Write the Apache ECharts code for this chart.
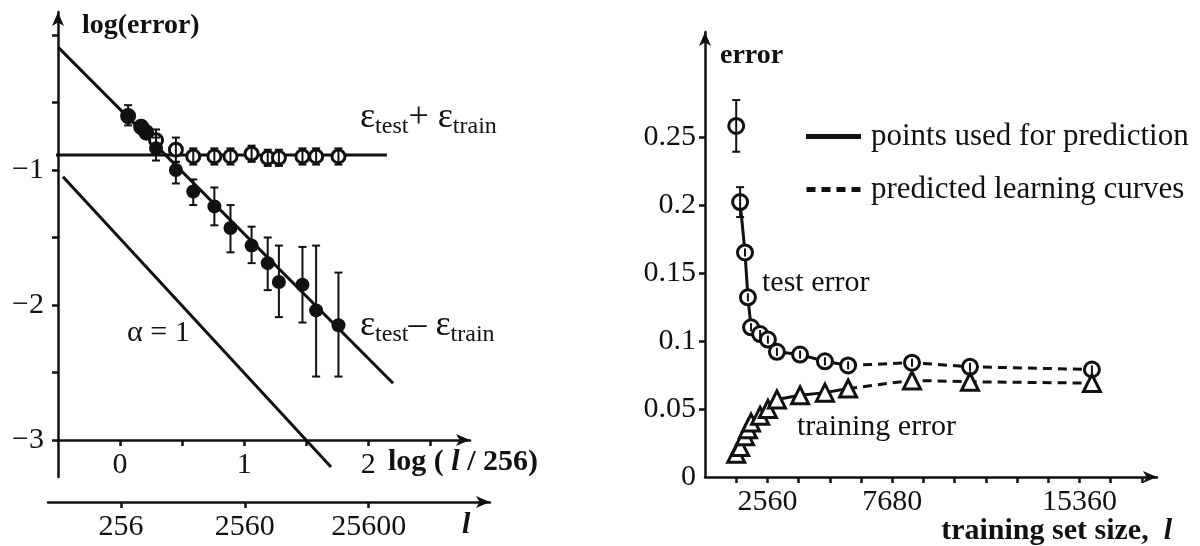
<!DOCTYPE html>
<html>
<head>
<meta charset="utf-8">
<script src="https://cdn.jsdelivr.net/npm/echarts@6/dist/echarts.min.js"></script>
<style>
  html, body { margin: 0; background: #fff; }
  #chart { width: 1200px; height: 546px; }
</style>
</head>
<body>
<div id="chart"></div>
<script>
// ---- left panel: x = log10(l / 256), y = log10(error)
const logL    = [0.065, 0.17, 0.21, 0.29, 0.45, 0.59, 0.76, 0.89, 1.06, 1.19, 1.28, 1.47, 1.58, 1.76];
const diffErr = [-0.61, -0.69, -0.73, -0.84, -1.00, -1.16, -1.27, -1.43, -1.56, -1.69, -1.83, -1.85, -2.04, -2.15];
const diffLo  = [-0.67, -0.74, -0.78, -0.93, -1.10, -1.26, -1.41, -1.61, -1.69, -1.89, -2.09, -2.13, -2.53, -2.53];
const diffHi  = [-0.52, -0.64, -0.68, -0.76, -0.94, -1.07, -1.13, -1.26, -1.42, -1.50, -1.56, -1.57, -1.56, -1.76];
const sumErr  = [-0.60, -0.68, -0.72, -0.78, -0.85, -0.90, -0.90, -0.90, -0.88, -0.91, -0.91, -0.90, -0.90, -0.90];
const sumBar  = [0.05, 0.05, 0.05, 0.08, 0.09, 0.06, 0.06, 0.06, 0.06, 0.06, 0.06, 0.06, 0.06, 0.06];
const fitX     = [-0.5, 2.2];
const fitY     = [-0.09, -2.58];
const alphaX   = [-0.46, 1.70];
const alphaY   = [-1.05, -3.2];
const plateauX = [-0.82, 2.15];
const plateauY = [-0.889, -0.889];
const logTickLabels = [0, 1, 2];
const logErrLabels  = [-3, -2, -1];
const sizeLogLabels = [0, 1, 2];   // 256, 2560, 25600

// ---- right panel: training set size l vs error
const trainSize = [1280, 1440, 1640, 1760, 1890, 2260, 2580, 2950, 3900, 4920, 5870, 8490, 10870, 15870];
const testErr   = [0.258, 0.202, 0.165, 0.132, 0.110, 0.105, 0.101, 0.092, 0.090, 0.085, 0.082, 0.084, 0.081, 0.079];
const testBar   = [0.019, 0.011, 0.003, 0.003, 0.003, 0.003, 0.003, 0.003, 0.003, 0.003, 0.003, 0.003, 0.003, 0.003];
const trainErr  = [0.017, 0.022, 0.030, 0.035, 0.040, 0.045, 0.050, 0.057, 0.060, 0.062, 0.065, 0.071, 0.070, 0.069];
const usedUpTo  = 10;   // last point used for the prediction
const sizeTickLabels  = [2560, 7680, 15360];
const errorTickLabels = [0, 0.05, 0.1, 0.15, 0.2, 0.25];

const INK = '#111';
const SERIF = '"Liberation Serif", "Times New Roman", serif';

const pairs = (xs, ys) => xs.map((x, i) => [x, ys[i]]);
const range = (a, b, step) => { const r = []; for (let v = a; v <= b + 1e-9; v += step) r.push(+v.toFixed(4)); return r; };

function errorBar(params, api) {
  const x = api.value(0);
  const top = api.coord([x, api.value(2)]);
  const bot = api.coord([x, api.value(1)]);
  const st = { stroke: INK, lineWidth: 2 };
  const kids = [{ type: 'line', shape: { x1: top[0], y1: top[1], x2: bot[0], y2: bot[1] }, style: st }];
  if (bot[1] - top[1] > 16) {
    kids.push({ type: 'line', shape: { x1: top[0] - 4, y1: top[1], x2: top[0] + 4, y2: top[1] }, style: st });
    kids.push({ type: 'line', shape: { x1: bot[0] - 4, y1: bot[1], x2: bot[0] + 4, y2: bot[1] }, style: st });
  }
  return { type: 'group', children: kids };
}

const axisLine = (arrow) => ({
  show: true,
  onZero: false,
  symbol: arrow ? ['none', 'arrow'] : 'none',
  symbolSize: [9, 14],
  lineStyle: { color: INK, width: 2.5 }
});
const tick = (vals) => ({ show: true, customValues: vals, length: 6, lineStyle: { color: INK, width: 2.5 } });
const label = (vals, fmt, margin) => ({
  show: true, customValues: vals, formatter: fmt, margin: margin,
  color: INK, fontFamily: SERIF, fontSize: 30
});
const openMark  = { color: '#fff', borderColor: INK, borderWidth: 3, opacity: 1 };
const solidMark = { color: INK, opacity: 1 };

const chart = echarts.init(document.getElementById('chart'), null, { renderer: 'canvas' });

const option = {
  backgroundColor: '#fff',
  animation: false,
  textStyle: { fontFamily: SERIF, color: INK },
  grid: [
    { left: 58, top: 12, width: 412, height: 428 },
    { left: 48, top: 440, width: 442, height: 37 },
    { left: 705, top: 32, width: 452, height: 445 }
  ],
  xAxis: [
    { gridIndex: 0, type: 'value', min: -0.5, max: 2.82, position: 'bottom',
      axisLine: axisLine(true), axisTick: tick(range(0, 2.5, 0.5)),
      axisLabel: label(logTickLabels, v => String(v), 10), splitLine: { show: false } },
    { gridIndex: 1, type: 'value', min: -0.59, max: 2.98, position: 'bottom', offset: 25,
      axisLine: axisLine(true), axisTick: tick(sizeLogLabels),
      axisLabel: label(sizeLogLabels, v => String(Math.round(256 * Math.pow(10, v))), 10),
      splitLine: { show: false } },
    { gridIndex: 2, type: 'value', min: 0, max: 18540, position: 'bottom',
      axisLine: axisLine(true), axisTick: tick(range(1280, 17920, 1280)),
      axisLabel: label(sizeTickLabels, v => String(v), 10), splitLine: { show: false } }
  ],
  yAxis: [
    { gridIndex: 0, type: 'value', min: -3, max: 0.17, position: 'left',
      axisLine: axisLine(true), axisTick: tick(range(-3, 0, 0.5)),
      axisLabel: label(logErrLabels, v => '\u2212' + Math.abs(v), 14), splitLine: { show: false } },
    { gridIndex: 1, type: 'value', min: 0, max: 1, position: 'left', offset: -10,
      axisLine: axisLine(false), axisTick: { show: false }, axisLabel: { show: false }, splitLine: { show: false } },
    { gridIndex: 2, type: 'value', min: 0, max: 0.327, position: 'left',
      axisLine: axisLine(true), axisTick: tick(range(0.05, 0.25, 0.05)),
      axisLabel: label(errorTickLabels, v => String(+v.toFixed(2)), 9), splitLine: { show: false } }
  ],
  legend: {
    left: 801, top: 116, orient: 'vertical', itemWidth: 55, itemHeight: 5, itemGap: 22,
    selectedMode: false,
    itemStyle: { color: INK, borderWidth: 0 },
    textStyle: { fontFamily: SERIF, fontSize: 31, color: INK, padding: [0, 0, 0, 5] },
    data: [
      { name: 'points used for prediction', icon: 'path://M0,0H55V5H0Z' },
      { name: 'predicted learning curves',
        icon: 'path://M0,0H9V5H0Z M15,0H24V5H15Z M30,0H39V5H30Z M45,0H54V5H45Z' }
    ]
  },
  series: [
    // left panel lines
    { type: 'line', xAxisIndex: 0, yAxisIndex: 0, data: pairs(plateauX, plateauY), symbol: 'none', clip: false,
      lineStyle: { color: INK, width: 3 }, silent: true },
    { type: 'line', xAxisIndex: 0, yAxisIndex: 0, data: pairs(fitX, fitY), symbol: 'none', clip: false,
      lineStyle: { color: INK, width: 3 }, silent: true },
    { type: 'line', xAxisIndex: 0, yAxisIndex: 0, data: pairs(alphaX, alphaY), symbol: 'none', clip: false,
      lineStyle: { color: INK, width: 3 }, silent: true },
    // eps_test + eps_train (open)
    { type: 'scatter', xAxisIndex: 0, yAxisIndex: 0, data: pairs(logL, sumErr), symbol: 'circle', symbolSize: 13,
      itemStyle: openMark, z: 3 },
    { type: 'custom', xAxisIndex: 0, yAxisIndex: 0, renderItem: errorBar,
      data: logL.map((x, i) => [x, sumErr[i] - sumBar[i], sumErr[i] + sumBar[i]]), z: 4 },
    // eps_test - eps_train (filled)
    { type: 'custom', xAxisIndex: 0, yAxisIndex: 0, renderItem: errorBar,
      data: logL.map((x, i) => [x, diffLo[i], diffHi[i]]), z: 4 },
    { type: 'scatter', xAxisIndex: 0, yAxisIndex: 0, data: pairs(logL, diffErr), symbol: 'circle', symbolSize: 14,
      itemStyle: solidMark, z: 5 },

    // right panel lines
    { name: 'points used for prediction', type: 'line', xAxisIndex: 2, yAxisIndex: 2, symbol: 'none',
      data: pairs(trainSize, testErr).slice(1, usedUpTo + 1), lineStyle: { color: INK, width: 3 } },
    { name: 'points used for prediction', type: 'line', xAxisIndex: 2, yAxisIndex: 2, symbol: 'none',
      data: pairs(trainSize, trainErr).slice(0, usedUpTo + 1), lineStyle: { color: INK, width: 3 } },
    { name: 'predicted learning curves', type: 'line', xAxisIndex: 2, yAxisIndex: 2, symbol: 'none',
      data: pairs(trainSize, testErr).slice(usedUpTo), lineStyle: { color: INK, width: 3, type: [9, 6] } },
    { name: 'predicted learning curves', type: 'line', xAxisIndex: 2, yAxisIndex: 2, symbol: 'none',
      data: pairs(trainSize, trainErr).slice(usedUpTo), lineStyle: { color: INK, width: 3, type: [9, 6] } },
    { type: 'scatter', xAxisIndex: 2, yAxisIndex: 2, data: pairs(trainSize, testErr), symbol: 'circle', symbolSize: 15,
      itemStyle: openMark, z: 3 },
    { type: 'custom', xAxisIndex: 2, yAxisIndex: 2, renderItem: errorBar,
      data: trainSize.map((x, i) => [x, testErr[i] - testBar[i], testErr[i] + testBar[i]]), z: 4 },
    { type: 'scatter', xAxisIndex: 2, yAxisIndex: 2, data: pairs(trainSize, trainErr), symbol: 'triangle', symbolSize: 17,
      itemStyle: openMark, z: 4 }
  ],
  graphic: [
    { type: 'text', x: 82, y: 12, style: { text: 'log(error)', fontFamily: SERIF, fontWeight: 'bold', fontSize: 28, fill: INK } },
    { type: 'text', x: 360, y: 97, style: {
        text: '{e|\u03b5}{s|test}{e|+ \u03b5}{s|train}', fill: INK,
        rich: {
          e: { fontFamily: SERIF, fontSize: 36, lineHeight: 42, verticalAlign: 'middle' },
          s: { fontFamily: SERIF, fontSize: 24, lineHeight: 42, verticalAlign: 'bottom' }
        } } },
    { type: 'text', x: 360, y: 305, style: {
        text: '{e|\u03b5}{s|test}{e|\u2013 \u03b5}{s|train}', fill: INK,
        rich: {
          e: { fontFamily: SERIF, fontSize: 36, lineHeight: 42, verticalAlign: 'middle' },
          s: { fontFamily: SERIF, fontSize: 24, lineHeight: 42, verticalAlign: 'bottom' }
        } } },
    { type: 'text', x: 127, y: 318, style: { text: '\u03b1 = 1', fontFamily: SERIF, fontSize: 30, fill: INK } },
    { type: 'text', x: 388, y: 447, style: {
        text: '{b|log ( }{i|l}{b| / 256)}', fill: INK,
        rich: {
          b: { fontFamily: SERIF, fontWeight: 'bold', fontSize: 30 },
          i: { fontFamily: SERIF, fontWeight: 'bold', fontStyle: 'italic', fontSize: 30 }
        } } },
    { type: 'text', x: 462, y: 510, style: { text: 'l', fontFamily: SERIF, fontWeight: 'bold', fontStyle: 'italic', fontSize: 30, fill: INK } },

    { type: 'text', x: 720, y: 42, style: { text: 'error', fontFamily: SERIF, fontWeight: 'bold', fontSize: 28, fill: INK } },
    { type: 'text', x: 762, y: 268, style: { text: 'test error', fontFamily: SERIF, fontSize: 30, fill: INK } },
    { type: 'text', x: 797, y: 412, style: { text: 'training error', fontFamily: SERIF, fontSize: 30, fill: INK } },
    { type: 'text', x: 1172, y: 516, style: {
        text: '{b|training set size,  }{i|l}', fill: INK, align: 'right',
        rich: {
          b: { fontFamily: SERIF, fontWeight: 'bold', fontSize: 30 },
          i: { fontFamily: SERIF, fontWeight: 'bold', fontStyle: 'italic', fontSize: 30 }
        } } }
  ]
};

chart.setOption(option);
</script>
</body>
</html>
